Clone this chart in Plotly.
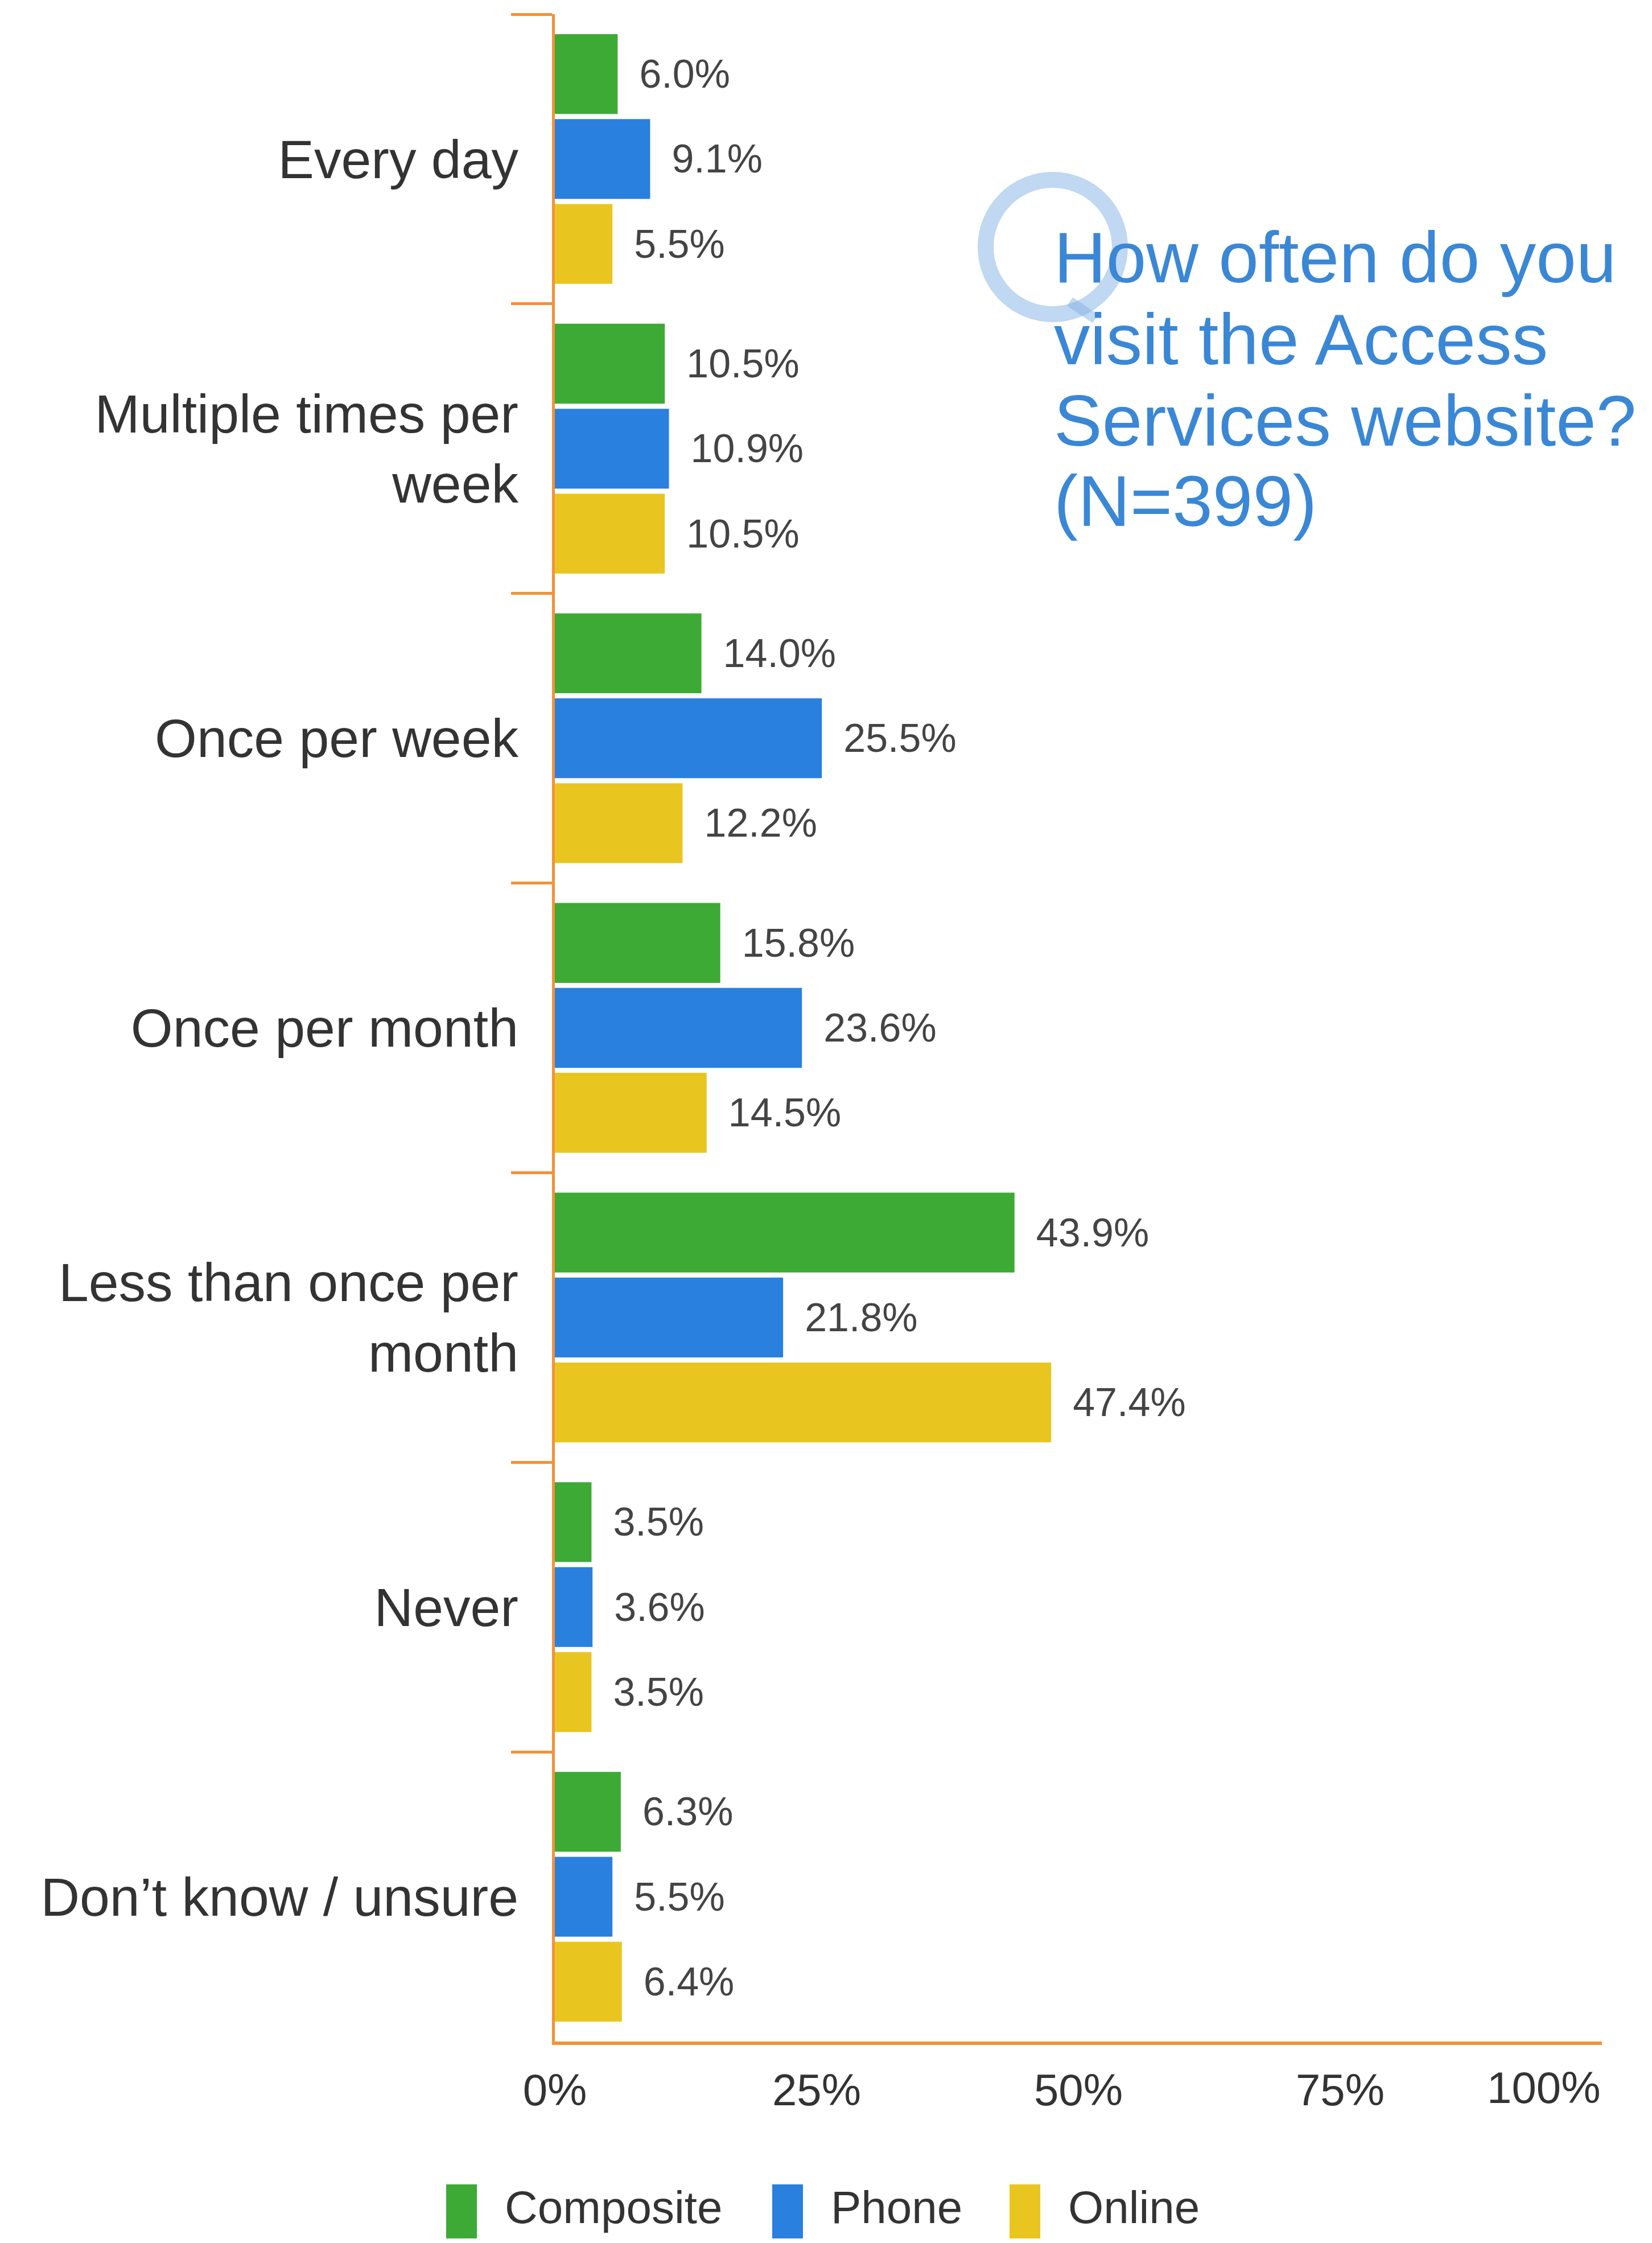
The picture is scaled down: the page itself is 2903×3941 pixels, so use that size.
import plotly.graph_objects as go

categories = ["Every day", "Multiple times per<br>week", "Once per week", "Once per month",
              "Less than once per<br>month", "Never", "Don’t know / unsure"]
composite = [6.0, 10.5, 14.0, 15.8, 43.9, 3.5, 6.3]
phone = [9.1, 10.9, 25.5, 23.6, 21.8, 3.6, 5.5]
online = [5.5, 10.5, 12.2, 14.5, 47.4, 3.5, 6.4]
series_names = ["Composite", "Phone", "Online"]
x_ticks = [0, 25, 50, 75, 100]
x_tick_labels = ["0%", "25%", "50%", "75%", "100%"]
title_lines = ["How often do you", "visit the Access", "Services website?", "(N=399)"]

colors = ["#3DAA35", "#2A80DE", "#E8C61F"]
orange = "#F39237"
font = "Liberation Sans, Arial, sans-serif"

# page pixels -> paper coords (plot area is x 975..2815, y 25..3587 on the page)
def px(X):
    return (X - 975) / 1840

def py(Y):
    return (3587 - Y) / 3562

fig = go.Figure()
for name, vals, col in zip(series_names, [composite, phone, online], colors):
    fig.add_trace(go.Bar(
        y=categories, x=vals, name=name, orientation="h",
        marker=dict(color=col, line=dict(width=0)),
        texttemplate="\u2002%{x:.1f}%", textposition="outside",
        textfont=dict(size=70, color="#444444", family=font),
        constraintext="none", cliponaxis=False,
    ))

fig.update_layout(
    width=2887, height=3925,
    margin=dict(l=967, r=80, t=17, b=346),
    paper_bgcolor="white", plot_bgcolor="white",
    barmode="group", bargap=0.12, bargroupgap=0.06,
    showlegend=False,
    font=dict(family=font, color="#333333"),
)
fig.update_yaxes(
    type="category", categoryorder="array", categoryarray=categories,
    autorange="reversed", showgrid=False, zeroline=False,
    showline=True, linecolor=orange, linewidth=5,
    ticks="outside", tickson="boundaries", ticklen=72, tickwidth=5, tickcolor=orange,
    tickfont=dict(size=95, color="#333333", family=font),
    ticklabelstandoff=40,
)
fig.update_xaxes(
    range=[0, 100], showgrid=False, zeroline=False,
    showline=True, linecolor=orange, linewidth=6, ticks="",
    tickvals=x_ticks, ticktext=x_tick_labels[:-1] + [""],
    tickfont=dict(size=78, color="#333333", family=font),
    ticklabelstandoff=12,
)
# last tick label kept inside the page, right aligned like the original
fig.add_annotation(x=x_ticks[-1], xref="x", y=py(3668), yref="paper",
                   text=x_tick_labels[-1], showarrow=False, xanchor="right", yanchor="middle",
                   font=dict(size=78, color="#333333", family=font))

# "Q" ring behind the question text
cx, cy, r = 1850, 434, 118
fig.add_shape(type="circle", xref="paper", yref="paper", layer="below",
              x0=px(cx - r), x1=px(cx + r), y0=py(cy + r), y1=py(cy - r),
              line=dict(color="rgba(130,178,228,0.5)", width=28))
fig.add_shape(type="line", xref="paper", yref="paper", layer="below",
              x0=px(1880), y0=py(530), x1=px(1925), y1=py(560),
              line=dict(color="rgba(130,178,228,0.5)", width=18))

for line, yc in zip(title_lines, [452, 596, 739, 880]):
    fig.add_annotation(x=px(1850), y=py(yc), xref="paper", yref="paper", text=line,
                       showarrow=False, xanchor="left", yanchor="middle",
                       font=dict(size=127, color="#3A87D6", family=font))

# legend drawn by hand: tall colour swatches + labels
legend_pos = [(784, 885), (1357, 1458), (1774, 1875)]
for name, col, (sx, tx) in zip(series_names, colors, legend_pos):
    fig.add_shape(type="rect", xref="paper", yref="paper",
                  x0=px(sx), x1=px(sx + 54), y0=py(3941), y1=py(3838),
                  fillcolor=col, line=dict(width=0))
    fig.add_annotation(x=px(tx), y=py(3878), xref="paper", yref="paper", text=name,
                       showarrow=False, xanchor="left", yanchor="middle",
                       font=dict(size=80, color="#333333", family=font))

fig.write_html("out.html")
